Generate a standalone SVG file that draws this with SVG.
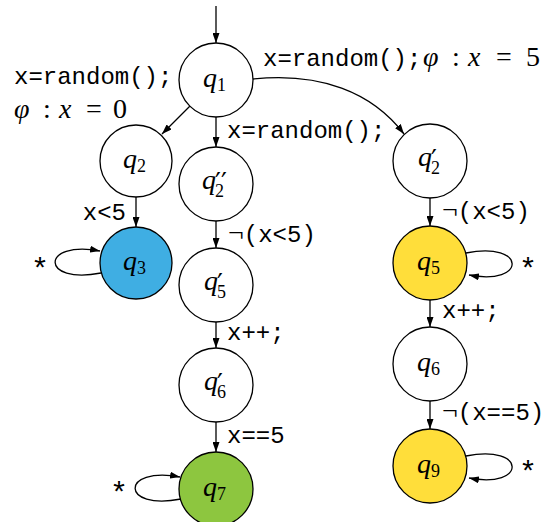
<svg xmlns="http://www.w3.org/2000/svg" width="554" height="522" viewBox="0 0 554 522">
<defs>
<style>
.n{stroke:#000;stroke-width:1.3;fill:#fff}
.blue{fill:#3FAEE3}
.yel{fill:#FFDE3A}
.grn{fill:#8DC63F}
.e{stroke:#000;stroke-width:1.3;fill:none;marker-end:url(#ah)}
.lbl{font-family:"Liberation Serif","DejaVu Serif",serif;font-size:28px}
.q{font-style:italic}
.sub{font-family:"Liberation Serif","DejaVu Serif",serif;font-size:18px}
.pr{font-family:"DejaVu Sans","Liberation Serif",sans-serif;font-size:26px}
.tt{font-family:"Liberation Mono","DejaVu Sans Mono",monospace;font-size:24px}
.st{font-family:"Liberation Mono","DejaVu Sans Mono",monospace;font-size:30px;text-anchor:middle}
.m{font-family:"Liberation Serif","DejaVu Serif",serif;font-size:28px}
.mi{font-style:italic}
</style>
<marker id="ah" viewBox="0 0 10 7" refX="10" refY="3.5" markerWidth="10" markerHeight="7" markerUnits="userSpaceOnUse" orient="auto">
<path d="M0,0 L10,3.5 L0,7 z" fill="#000"/>
</marker>
</defs>

<g id="connectors">
<path class="e" d="M216 6 L216 43"/>
<path class="e" d="M190 106 L162 134"/>
<path class="e" d="M216 117 L216 147"/>
<path class="e" d="M253 79 C320 72 372 92 404 134"/>
<path class="e" d="M136 197 L136 227"/>
<path class="e" d="M216 221 L216 248"/>
<path class="e" d="M216 322 L216 348"/>
<path class="e" d="M216 422 L216 452"/>
<path class="e" d="M430 198 L430 226"/>
<path class="e" d="M430 300 L430 327"/>
<path class="e" d="M430 401 L430 429"/>
<path class="e" d="M101 273 C40 285 40 240 100 251"/>
<path class="e" d="M181 499 C120 511 120 466 180 477"/>
<path class="e" d="M466 253 C527 241 527 286 469 275"/>
<path class="e" d="M466 456 C527 444 527 489 469 478"/>

<text class="tt" x="14" y="84">x=random();</text>
<text class="m" y="118"><tspan class="mi" x="14">φ</tspan><tspan x="43">:</tspan><tspan class="mi" x="59">x</tspan><tspan x="86">=</tspan><tspan x="113">0</tspan></text>
<text class="tt" x="263" y="66">x=random();</text>
<text class="m" y="66"><tspan class="mi" x="423">φ</tspan><tspan x="452">:</tspan><tspan class="mi" x="468">x</tspan><tspan x="496">=</tspan><tspan x="526">5</tspan></text>
<text class="tt" x="227" y="138">x=random();</text>
<text class="tt" x="126" y="220" text-anchor="end">x&lt;5</text>
<text x="228" y="242"><tspan class="m">¬</tspan><tspan class="tt">(x&lt;5)</tspan></text>
<text class="tt" x="227" y="340">x++;</text>
<text class="tt" x="227" y="443">x==5</text>
<text x="442" y="219"><tspan class="m">¬</tspan><tspan class="tt">(x&lt;5)</tspan></text>
<text class="tt" x="442" y="318">x++;</text>
<text x="442" y="420"><tspan class="m">¬</tspan><tspan class="tt">(x==5)</tspan></text>
<text class="st" x="40" y="279">*</text>
<text class="st" x="119" y="503">*</text>
<text class="st" x="528" y="279">*</text>
<text class="st" x="528" y="482">*</text>
</g>

<g id="q1"><circle class="n" cx="216" cy="80" r="37"/><text class="lbl q" x="203" y="87">q</text><text class="sub" x="217" y="91">1</text></g>
<g id="q2"><circle class="n" cx="136" cy="161" r="36"/><text class="lbl q" x="123" y="168">q</text><text class="sub" x="137" y="172">2</text></g>
<g id="q2pp"><circle class="n" cx="216" cy="184" r="37"/><text class="lbl q" x="202" y="189">q</text><text class="pr" x="215" y="192">′′</text><text class="sub" x="215" y="197">2</text></g>
<g id="q2p"><circle class="n" cx="430" cy="161" r="37"/><text class="lbl q" x="418" y="166">q</text><text class="pr" x="431" y="169">′</text><text class="sub" x="431" y="174">2</text></g>
<g id="q3"><circle class="n blue" cx="136" cy="263" r="36"/><text class="lbl q" x="123" y="270">q</text><text class="sub" x="137" y="274">3</text></g>
<g id="q5p"><circle class="n" cx="216" cy="285" r="37"/><text class="lbl q" x="204" y="290">q</text><text class="pr" x="217" y="293">′</text><text class="sub" x="217" y="298">5</text></g>
<g id="q5"><circle class="n yel" cx="430" cy="263" r="37"/><text class="lbl q" x="417" y="270">q</text><text class="sub" x="431" y="274">5</text></g>
<g id="q6p"><circle class="n" cx="216" cy="385" r="37"/><text class="lbl q" x="204" y="390">q</text><text class="pr" x="217" y="393">′</text><text class="sub" x="217" y="398">6</text></g>
<g id="q6"><circle class="n" cx="430" cy="364" r="37"/><text class="lbl q" x="417" y="371">q</text><text class="sub" x="431" y="375">6</text></g>
<g id="q7"><circle class="n grn" cx="216" cy="489" r="37"/><text class="lbl q" x="203" y="496">q</text><text class="sub" x="217" y="500">7</text></g>
<g id="q9"><circle class="n yel" cx="430" cy="466" r="37"/><text class="lbl q" x="417" y="473">q</text><text class="sub" x="431" y="477">9</text></g>
</svg>
